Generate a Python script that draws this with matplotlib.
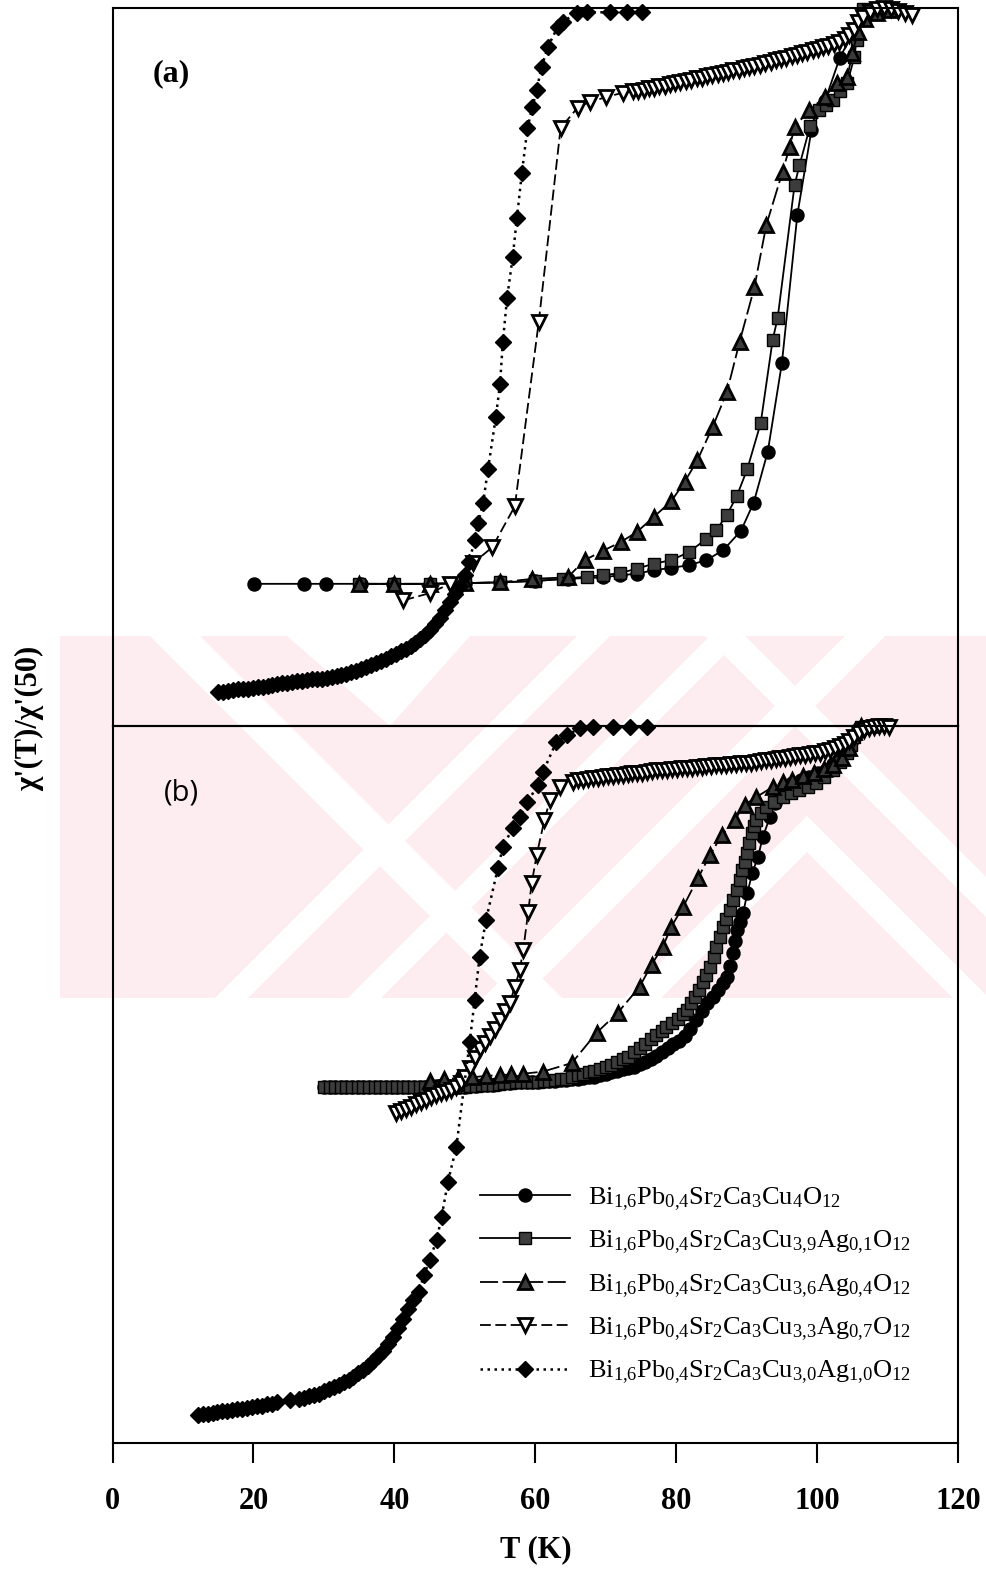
import matplotlib.pyplot as plt
from matplotlib.patches import Polygon

plt.rcParams['font.family'] = ['Liberation Serif', 'DejaVu Serif']
plt.rcParams['mathtext.fontset'] = 'custom'
plt.rcParams['mathtext.rm'] = 'Liberation Serif'
plt.rcParams['mathtext.it'] = 'Liberation Serif:italic'
plt.rcParams['mathtext.bf'] = 'Liberation Serif:bold'

# ---- panel (a): chi'(T)/chi'(50), arbitrary normalised units ----
a_circ_T = [20.1, 27.2, 30.3, 35.2, 39.8, 45.0, 50.0, 55.0, 60.0, 64.6, 69.6, 72.0, 74.4, 76.8, 79.2,
            81.8, 84.3, 86.7, 89.2, 91.0, 93.0, 95.0, 97.2, 99.2, 101.1, 103.2, 105.3, 106.7, 108.2]
a_circ_y = [0.198, 0.198, 0.198, 0.198, 0.198, 0.198, 0.199, 0.200, 0.202, 0.205, 0.207, 0.210, 0.212, 0.217, 0.220,
            0.224, 0.231, 0.245, 0.272, 0.311, 0.382, 0.505, 0.712, 0.830, 0.870, 0.930, 0.970, 0.990, 0.998]

a_sq_T = [35.0, 40.0, 45.0, 50.0, 55.0, 60.0, 64.0, 67.3, 69.6, 72.0, 74.4, 76.8, 79.3, 81.8, 84.2, 85.7, 87.2,
          88.6, 90.1, 92.0, 93.7, 94.4, 96.8, 97.5, 99.0, 100.3, 101.3, 102.2, 103.3, 104.3, 105.3, 105.6, 106.5]
a_sq_y = [0.198, 0.198, 0.198, 0.199, 0.200, 0.202, 0.205, 0.208, 0.210, 0.213, 0.219, 0.226, 0.231, 0.242, 0.260,
          0.273, 0.294, 0.320, 0.358, 0.422, 0.538, 0.568, 0.753, 0.781, 0.835, 0.858, 0.865, 0.872, 0.884, 0.896,
          0.932, 0.955, 0.998]

a_up_T = [35.0, 40.0, 45.0, 50.0, 55.0, 59.6, 64.6, 67.0, 69.6, 72.1, 74.4, 76.8, 79.3, 81.2, 83.0, 85.2, 87.2,
          89.0, 91.1, 92.8, 95.1, 96.1, 96.8, 98.9, 101.1, 102.8, 104.3, 105.0, 105.8, 106.8, 108.5, 110.3]
a_up_y = [0.198, 0.198, 0.198, 0.199, 0.200, 0.205, 0.207, 0.231, 0.244, 0.256, 0.270, 0.291, 0.313, 0.340, 0.370,
          0.417, 0.465, 0.535, 0.611, 0.698, 0.772, 0.806, 0.834, 0.858, 0.876, 0.896, 0.904, 0.937, 0.967, 0.985,
          0.993, 0.997]

a_down_T = [41.3, 45.0, 47.9, 51.2, 53.9, 57.1, 60.5, 63.6, 66.0, 67.7, 70.1, 72.4, 73.9, 74.6, 75.4, 76.1, 76.9,
            77.6, 78.4, 79.1, 79.9, 80.6, 81.4, 82.1, 82.9, 83.6, 84.4, 85.1, 85.9, 86.6, 87.4, 88.1, 88.9, 89.6,
            90.4, 91.1, 91.9, 92.6, 93.4, 94.1, 94.9, 95.6, 96.4, 97.1, 97.9, 98.6, 99.4, 100.1, 100.9, 101.6,
            102.4, 103.1, 103.9, 104.6, 105.2, 105.8, 106.5, 107.5, 108.5, 109.5, 110.5, 111.5, 112.5, 113.5]
a_down_y = [0.175, 0.185, 0.198, 0.227, 0.249, 0.306, 0.563, 0.833, 0.861, 0.869, 0.876, 0.882, 0.884, 0.885,
            0.886, 0.888, 0.889, 0.891, 0.892, 0.894, 0.895, 0.897, 0.898, 0.900, 0.902, 0.903, 0.905, 0.906,
            0.908, 0.909, 0.911, 0.913, 0.914, 0.916, 0.918, 0.919, 0.921, 0.923, 0.925, 0.927, 0.929, 0.931,
            0.933, 0.935, 0.937, 0.939, 0.941, 0.943, 0.945, 0.947, 0.950, 0.953, 0.957, 0.962, 0.970, 0.980,
            0.988, 0.994, 0.998, 1.000, 0.999, 0.996, 0.993, 0.990]

a_diam_T = [15.0, 15.7, 16.4, 17.1, 17.8, 18.5, 19.2, 19.9, 20.6, 21.3, 22.0, 22.7, 23.4, 24.1, 24.8, 25.5, 26.2,
            26.9, 27.6, 28.3, 29.0, 29.7, 30.4, 31.1, 31.8, 32.5, 33.2, 33.9, 34.6, 35.3, 36.0, 36.7, 37.4, 38.1,
            38.8, 39.5, 40.2, 40.9, 41.6, 42.3, 43.0, 43.7, 44.4, 45.1, 45.8, 46.5, 47.2, 47.9, 48.6, 49.3, 50.0,
            50.6, 51.4, 51.9, 52.6, 53.3, 54.4, 55.0, 55.4, 56.0, 56.8, 57.4, 58.1, 58.9, 59.6, 60.2, 60.9, 61.8,
            63.2, 63.9, 65.9, 67.3, 70.6, 73.0, 75.1]
a_diam_y = [0.047, 0.048, 0.049, 0.050, 0.051, 0.052, 0.052, 0.053, 0.054, 0.055, 0.056, 0.057, 0.058, 0.060,
            0.060, 0.061, 0.062, 0.063, 0.064, 0.065, 0.065, 0.066, 0.067, 0.068, 0.070, 0.071, 0.073, 0.075,
            0.077, 0.079, 0.082, 0.085, 0.088, 0.091, 0.094, 0.097, 0.100, 0.104, 0.107, 0.111, 0.115, 0.121,
            0.127, 0.134, 0.142, 0.151, 0.162, 0.173, 0.184, 0.195, 0.210, 0.228, 0.259, 0.283, 0.311, 0.358,
            0.430, 0.476, 0.535, 0.596, 0.653, 0.708, 0.770, 0.833, 0.862, 0.886, 0.918, 0.946, 0.974, 0.981,
            0.993, 0.994, 0.994, 0.994, 0.994]

# ---- panel (b) ----
b_circ_T = [30.0, 30.8, 31.6, 32.4, 33.2, 34.0, 34.8, 35.6, 36.4, 37.2, 38.0, 38.8, 39.6, 40.4, 41.2, 42.0, 42.8,
            43.6, 44.4, 45.2, 46.0, 46.8, 47.6, 48.4, 49.2, 50.0, 50.8, 51.6, 52.4, 53.2, 54.0, 54.8, 55.6, 56.4,
            57.2, 58.0, 58.8, 59.6, 60.4, 61.2, 62.0, 62.8, 63.6, 64.4, 65.2, 66.0, 66.8, 67.6, 68.4, 69.2, 70.0,
            70.8, 71.6, 72.4, 73.2, 74.0, 74.8, 75.6, 76.4, 77.2, 78.0, 78.8, 79.6, 80.4, 81.2, 82.0, 82.8, 83.6,
            84.4, 85.2, 86.0, 86.6, 87.2, 87.6, 88.0, 88.3, 88.6, 89.0, 89.5, 90.1, 90.8, 91.6, 92.3, 93.3, 94.0,
            94.7, 95.6, 96.5, 97.7, 98.9, 100.1, 101.3, 102.2, 103.2, 104.1, 105.0, 105.8, 106.5, 107.5, 108.5]
b_circ_y = [0.497, 0.497, 0.497, 0.497, 0.497, 0.497, 0.497, 0.497, 0.497, 0.497, 0.497, 0.497, 0.497, 0.497,
            0.497, 0.497, 0.497, 0.497, 0.497, 0.497, 0.497, 0.497, 0.497, 0.497, 0.497, 0.497, 0.498, 0.498,
            0.499, 0.499, 0.500, 0.501, 0.502, 0.502, 0.503, 0.503, 0.503, 0.504, 0.504, 0.505, 0.505, 0.505,
            0.506, 0.506, 0.507, 0.508, 0.509, 0.510, 0.511, 0.513, 0.515, 0.517, 0.519, 0.521, 0.523, 0.525,
            0.528, 0.531, 0.535, 0.540, 0.546, 0.551, 0.556, 0.561, 0.568, 0.578, 0.590, 0.603, 0.613, 0.622,
            0.632, 0.641, 0.650, 0.665, 0.683, 0.700, 0.715, 0.727, 0.739, 0.767, 0.795, 0.817, 0.845, 0.873,
            0.893, 0.907, 0.915, 0.920, 0.925, 0.929, 0.934, 0.939, 0.947, 0.957, 0.969, 0.981, 0.991, 0.999,
            1.000, 1.000]

b_sq_T = [30.0, 30.8, 31.6, 32.4, 33.2, 34.0, 34.8, 35.6, 36.4, 37.2, 38.0, 38.8, 39.6, 40.4, 41.2, 42.0, 42.8,
          43.6, 44.4, 45.2, 46.0, 46.8, 47.6, 48.4, 49.2, 50.0, 50.8, 51.6, 52.4, 53.2, 54.0, 54.8, 55.6, 56.4,
          57.2, 58.0, 58.8, 59.6, 60.4, 61.2, 62.0, 62.8, 63.6, 64.4, 65.2, 66.0, 66.8, 67.6, 68.4, 69.2, 70.0,
          70.8, 71.6, 72.4, 73.2, 74.0, 74.8, 75.6, 76.4, 77.2, 78.0, 78.6, 79.4, 80.2, 81.0, 81.5, 82.1, 82.7,
          83.3, 83.8, 84.3, 84.8, 85.3, 85.7, 86.2, 86.6, 87.1, 87.6, 88.1, 88.6, 89.0, 89.3, 89.7, 90.0, 90.4,
          90.7, 91.1, 91.4, 92.1, 92.8, 93.9, 95.1, 96.3, 97.5, 98.7, 99.9, 101.0, 102.2, 103.2, 104.2, 104.8,
          105.3, 105.8, 106.3]
b_sq_y = [0.497, 0.497, 0.497, 0.497, 0.497, 0.497, 0.497, 0.497, 0.497, 0.497, 0.497, 0.497, 0.497, 0.497,
          0.497, 0.497, 0.497, 0.497, 0.497, 0.497, 0.497, 0.497, 0.497, 0.497, 0.497, 0.497, 0.498, 0.498,
          0.499, 0.499, 0.500, 0.501, 0.502, 0.502, 0.503, 0.503, 0.503, 0.504, 0.504, 0.505, 0.505, 0.506,
          0.507, 0.508, 0.510, 0.513, 0.515, 0.517, 0.519, 0.521, 0.524, 0.527, 0.531, 0.535, 0.539, 0.545,
          0.551, 0.557, 0.563, 0.569, 0.575, 0.580, 0.586, 0.592, 0.598, 0.604, 0.613, 0.622, 0.632, 0.643,
          0.653, 0.664, 0.678, 0.692, 0.706, 0.720, 0.731, 0.743, 0.757, 0.771, 0.785, 0.799, 0.811, 0.823,
          0.837, 0.851, 0.860, 0.869, 0.878, 0.887, 0.894, 0.901, 0.906, 0.911, 0.915, 0.920, 0.929, 0.939,
          0.950, 0.962, 0.973, 0.985, 0.993, 0.998]

b_up_T = [45.0, 47.0, 49.0, 51.0, 53.0, 55.0, 56.5, 58.3, 61.1, 65.2, 68.7, 71.7, 74.8, 76.5, 78.1, 79.3, 81.0,
          83.1, 84.8, 86.5, 88.3, 89.7, 91.4, 93.7, 95.1, 96.5, 98.0, 99.5, 101.0, 102.2, 103.5, 104.6, 105.3, 106.3]
b_up_y = [0.505, 0.507, 0.509, 0.510, 0.512, 0.513, 0.514, 0.515, 0.518, 0.530, 0.572, 0.600, 0.636, 0.667, 0.692,
          0.720, 0.748, 0.788, 0.820, 0.848, 0.869, 0.890, 0.901, 0.915, 0.922, 0.925, 0.930, 0.935, 0.940, 0.946,
          0.955, 0.969, 0.992, 1.000]

b_down_T = [40.3, 41.0, 41.7, 42.4, 43.1, 43.8, 44.5, 45.2, 45.9, 46.6, 47.3, 48.0, 48.7, 49.4, 50.1, 50.8, 51.5,
            52.2, 52.9, 53.6, 54.3, 55.0, 55.7, 56.4, 57.1, 57.8, 58.3, 59.0, 59.5, 60.2, 61.3, 62.1, 63.5, 65.4,
            66.1, 66.8, 67.5, 68.2, 68.9, 69.6, 70.3, 71.0, 71.7, 72.4, 73.1, 73.8, 74.5, 75.2, 75.9, 76.6, 77.3,
            78.0, 78.7, 79.4, 80.1, 80.8, 81.5, 82.2, 82.9, 83.6, 84.3, 85.0, 85.7, 86.4, 87.1, 87.8, 88.5, 89.2,
            89.9, 90.6, 91.3, 92.0, 92.7, 93.4, 94.1, 94.8, 95.5, 96.2, 96.9, 97.6, 98.3, 99.0, 99.7, 100.4,
            101.1, 101.8, 102.5, 103.2, 103.9, 104.6, 105.3, 106.0, 106.7, 107.4, 108.1, 108.8, 109.5, 110.2]
b_down_y = [0.460, 0.463, 0.466, 0.469, 0.473, 0.476, 0.479, 0.482, 0.485, 0.488, 0.490, 0.493, 0.497, 0.502,
            0.510, 0.523, 0.537, 0.549, 0.558, 0.567, 0.578, 0.590, 0.602, 0.614, 0.636, 0.660, 0.688, 0.741,
            0.781, 0.820, 0.869, 0.897, 0.915, 0.922, 0.924, 0.925, 0.926, 0.927, 0.928, 0.929, 0.930, 0.930,
            0.931, 0.932, 0.933, 0.934, 0.935, 0.935, 0.936, 0.937, 0.938, 0.939, 0.939, 0.940, 0.940, 0.941,
            0.942, 0.942, 0.943, 0.943, 0.944, 0.944, 0.945, 0.946, 0.946, 0.947, 0.947, 0.948, 0.949, 0.949,
            0.950, 0.951, 0.952, 0.953, 0.954, 0.955, 0.956, 0.957, 0.958, 0.959, 0.960, 0.961, 0.962, 0.963,
            0.965, 0.967, 0.969, 0.972, 0.975, 0.979, 0.984, 0.990, 0.994, 0.997, 0.999, 1.000, 1.000, 0.999]

b_diam_T = [12.1, 12.8, 13.5, 14.2, 14.9, 15.6, 16.3, 17.0, 17.7, 18.4, 19.1, 19.8, 20.5, 21.2, 21.9, 22.6, 23.3,
            25.2, 26.5, 27.2, 27.9, 28.6, 29.3, 30.0, 30.7, 31.4, 32.1, 32.8, 33.5, 34.2, 34.9, 35.6, 36.3, 37.0,
            37.7, 38.4, 39.1, 39.8, 40.5, 41.2, 41.9, 42.6, 43.5, 44.2, 45.0, 46.0, 46.7, 47.6, 48.8, 50.7, 51.4,
            52.1, 53.0, 54.7, 55.4, 56.8, 57.8, 58.9, 60.4, 61.1, 63.0, 64.5, 66.3, 68.2, 71.1, 73.5, 75.8]
b_diam_y = [0.039, 0.040, 0.041, 0.042, 0.043, 0.044, 0.045, 0.046, 0.047, 0.048, 0.049, 0.050, 0.051, 0.052,
            0.054, 0.055, 0.057, 0.060, 0.062, 0.063, 0.065, 0.067, 0.069, 0.072, 0.075, 0.078, 0.081, 0.085,
            0.088, 0.092, 0.097, 0.102, 0.108, 0.114, 0.121, 0.129, 0.138, 0.148, 0.160, 0.173, 0.187, 0.199,
            0.211, 0.234, 0.255, 0.283, 0.315, 0.364, 0.413, 0.559, 0.618, 0.678, 0.729, 0.802, 0.831, 0.858,
            0.873, 0.894, 0.918, 0.936, 0.978, 0.987, 0.997, 0.999, 0.999, 0.999, 0.999]

labels = [
    r'Bi$_{1{,}6}$Pb$_{0{,}4}$Sr$_2$Ca$_3$Cu$_4$O$_{12}$',
    r'Bi$_{1{,}6}$Pb$_{0{,}4}$Sr$_2$Ca$_3$Cu$_{3{,}9}$Ag$_{0{,}1}$O$_{12}$',
    r'Bi$_{1{,}6}$Pb$_{0{,}4}$Sr$_2$Ca$_3$Cu$_{3{,}6}$Ag$_{0{,}4}$O$_{12}$',
    r'Bi$_{1{,}6}$Pb$_{0{,}4}$Sr$_2$Ca$_3$Cu$_{3{,}3}$Ag$_{0{,}7}$O$_{12}$',
    r'Bi$_{1{,}6}$Pb$_{0{,}4}$Sr$_2$Ca$_3$Cu$_{3{,}0}$Ag$_{1{,}0}$O$_{12}$',
]

styles = [
    dict(marker='o', ls='-', lw=1.3, ms=9.4, mfc='black', mec='black'),
    dict(marker='s', ls='-', lw=1.3, ms=8, mfc='#3c3c3c', mec='black'),
    dict(marker='^', ls=(0, (10, 2.5)), lw=1.3, ms=9.5, mfc='#3a3a3a', mec='black', mew=2.0),
    dict(marker='v', ls=(0, (6, 2.5)), lw=1.3, ms=9.5, mfc='white', mec='black', mew=2.0),
    dict(marker='D', ls=(0, (1, 1.8)), lw=1.8, ms=8.2, mfc='black', mec='black'),
]

W, H = 986, 1570
fig = plt.figure(figsize=(W / 100, H / 100), dpi=100)


def fx(x):
    return x / W


def fy(y):
    return 1 - y / H


# faint pink stamp behind the plot
pink = '#fdedf0'
band = [(60, 636), (986, 636), (986, 998), (60, 998)]
gaps = [
    [(150, 636), (200, 636), (562, 998), (512, 998)],
    [(287, 636), (470, 636), (390, 726)],
    [(577, 636), (610, 636), (248, 998), (215, 998)],
    [(710, 636), (743, 636), (381, 998), (348, 998)],
    [(845, 636), (885, 636), (523, 998), (483, 998)],
    [(625, 998), (807, 816), (989, 998), (953, 998), (807, 852), (661, 998)],
    [(705, 636), (745, 636), (986, 877), (986, 917)],
]
fig.add_artist(Polygon([(fx(x), fy(y)) for x, y in band], closed=True, transform=fig.transFigure,
                       facecolor=pink, edgecolor='none', zorder=0))
for g in gaps:
    fig.add_artist(Polygon([(fx(x), fy(y)) for x, y in g], closed=True, transform=fig.transFigure,
                           facecolor='white', edgecolor='none', zorder=0.1))

left, right = 112.5, 958
ax_a = fig.add_axes([fx(left), fy(726), fx(right) - fx(left), fy(8) - fy(726)])
ax_b = fig.add_axes([fx(left), fy(1443), fx(right) - fx(left), fy(726) - fy(1443)])

panel_a = [(a_circ_T, a_circ_y), (a_sq_T, a_sq_y), (a_up_T, a_up_y), (a_down_T, a_down_y), (a_diam_T, a_diam_y)]
panel_b = [(b_circ_T, b_circ_y), (b_sq_T, b_sq_y), (b_up_T, b_up_y), (b_down_T, b_down_y), (b_diam_T, b_diam_y)]

handles = []
for ax, series in [(ax_a, panel_a), (ax_b, panel_b)]:
    ax.set_facecolor('none')
    ax.set_zorder(2)
    for (T, y), st, lab in zip(series, styles, labels):
        ln, = ax.plot(T, y, color='black', clip_on=False, label=lab, **st)
        if ax is ax_b:
            handles.append(ln)
    ax.set_xlim(0, 120)
    ax.set_ylim(0, 1)
    ax.set_yticks([])
    for sp in ax.spines.values():
        sp.set_linewidth(1.5)

ax_a.set_xticks([])
ax_b.set_xticks([0, 20, 40, 60, 80, 100, 120])
ax_b.tick_params(axis='x', direction='out', length=14.5, width=1.5, pad=17, labelsize=22)
for t in ax_b.get_xticklabels():
    t.set_fontweight('bold')

ax_a.text(0.069, 0.909, '(a)', transform=ax_a.transAxes, fontsize=23, fontweight='bold',
          ha='center', va='center')
ax_b.text(0.082, 0.907, '(b)', transform=ax_b.transAxes, fontsize=21, family='Open Sans',
          ha='center', va='center')

fig.text(fx(536), fy(1550), 'T (K)', fontsize=22, fontweight='bold', ha='center', va='center')
fig.text(fx(30), fy(718), "\u03c7'(T)/\u03c7'(50)", fontsize=22, fontweight='bold', rotation=90,
         ha='center', va='center')

ax_b.legend(handles, labels, loc='upper left', bbox_to_anchor=(fx(480), fy(1185)),
            bbox_transform=fig.transFigure, frameon=False, fontsize=19, handlelength=3.4,
            handletextpad=0.7, labelspacing=0.6, borderpad=0, borderaxespad=0)

fig.savefig('out.png', dpi=100)
